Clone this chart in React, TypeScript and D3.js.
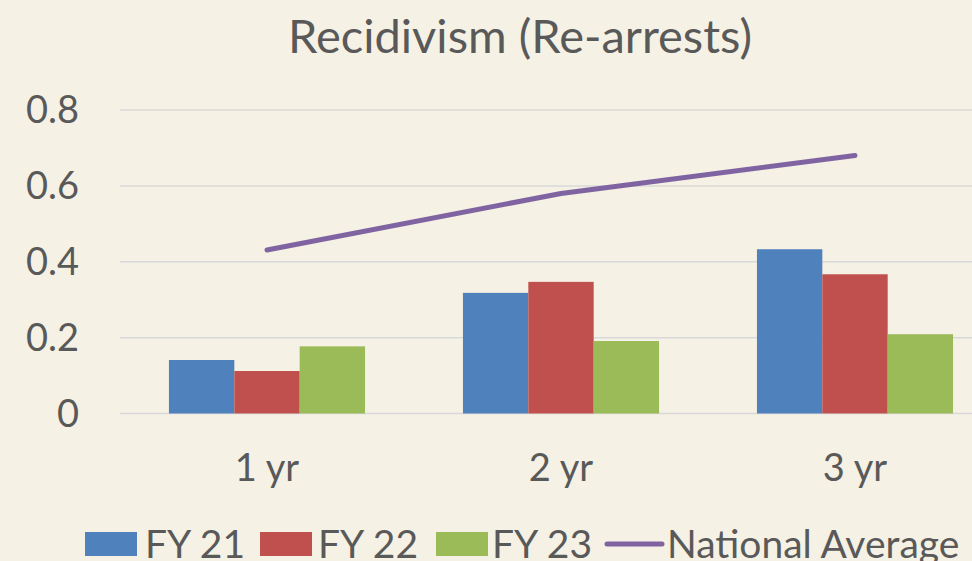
import React from "react";
import * as d3 from "d3";

const categories = ["1 yr", "2 yr", "3 yr"];
const barSeries = ["FY 21", "FY 22", "FY 23"];
const fy21 = [0.141, 0.318, 0.433];
const fy22 = [0.112, 0.347, 0.367];
const fy23 = [0.177, 0.191, 0.209];
const nationalAverage = [0.431, 0.58, 0.68];
const yTicks = [0, 0.2, 0.4, 0.6, 0.8];
const lineSeriesName = "National Average";

const W = 972;
const H = 561;
const colors = ["#4F81BD", "#C0504D", "#9BBB59"];
const lineColor = "#8064A2";
const textColor = "#595959";
const font = "Lato, 'Open Sans', sans-serif";

export default function App() {
  const x = d3.scaleBand<string>().domain(categories).range([120, 1002]).paddingInner(0.333).paddingOuter(0.1665);
  const xs = d3.scaleBand<string>().domain(barSeries).range([0, x.bandwidth()]);
  const y = d3.scaleLinear().domain([0, 0.8]).range([413.5, 110]);
  const values = [fy21, fy22, fy23];
  const line = d3
    .line<number>()
    .x((_, i) => (x(categories[i]) as number) + x.bandwidth() / 2)
    .y((d) => y(d));

  const legendItems = [
    { type: "rect", label: barSeries[0], color: colors[0], x: 85, tx: 145 },
    { type: "rect", label: barSeries[1], color: colors[1], x: 260, tx: 318 },
    { type: "rect", label: barSeries[2], color: colors[2], x: 436, tx: 492 },
    { type: "line", label: lineSeriesName, color: lineColor, x: 607, tx: 667 },
  ];

  return (
    <svg width={W} height={H} style={{ position: "absolute", left: 0, top: 0, display: "block" }}>
      <rect x={0} y={0} width={W} height={H} fill="#F5F1E4" />
      <text x={520} y={52.5} textAnchor="middle" fontFamily={font} fontSize={47} fill={textColor}>
        Recidivism (Re-arrests)
      </text>
      {yTicks.map((t) => (
        <g key={t}>
          <line x1={120} x2={W} y1={y(t)} y2={y(t)} stroke="#D9D9D9" strokeWidth={1.5} />
          <text x={79} y={y(t)} dy="0.35em" textAnchor="end" fontFamily={font} fontSize={38} fill={textColor}>
            {t === 0 ? "0" : t.toFixed(1)}
          </text>
        </g>
      ))}
      {categories.map((c, ci) => (
        <g key={c} transform={`translate(${x(c)},0)`}>
          {barSeries.map((s, si) => (
            <rect
              key={s}
              x={xs(s)}
              y={y(values[si][ci])}
              width={xs.bandwidth()}
              height={y(0) - y(values[si][ci])}
              fill={colors[si]}
            />
          ))}
          <text x={x.bandwidth() / 2} y={481} textAnchor="middle" fontFamily={font} fontSize={38} fill={textColor}>
            {c}
          </text>
        </g>
      ))}
      <path d={line(nationalAverage) || ""} fill="none" stroke={lineColor} strokeWidth={5} strokeLinecap="round" strokeLinejoin="round" />
      {legendItems.map((it) => (
        <g key={it.label}>
          {it.type === "rect" ? (
            <rect x={it.x} y={532} width={52} height={24} fill={it.color} />
          ) : (
            <line x1={it.x} x2={it.x + 55} y1={544} y2={544} stroke={it.color} strokeWidth={5} strokeLinecap="round" />
          )}
          <text x={it.tx} y={558} fontFamily={font} fontSize={39} fill={textColor}>
            {it.label}
          </text>
        </g>
      ))}
    </svg>
  );
}
